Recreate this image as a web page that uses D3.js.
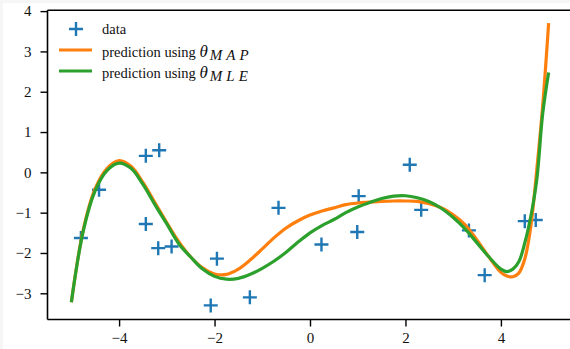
<!DOCTYPE html>
<html>
<head>
<meta charset="utf-8">
<script src="https://cdn.jsdelivr.net/npm/d3@7"></script>
<style>
  html, body { margin: 0; padding: 0; background: #f6f6f6; }
  svg { display: block; }
</style>
</head>
<body>
<svg id="canvas" width="570" height="349"></svg>
<script>
// observed samples
const dataX = [-4.80, -4.42, -3.44, -3.16, -3.44, -3.18, -2.90, -1.95, -2.08, -1.26,
               -0.66, 0.24, 0.99, 1.02, 2.09, 2.33, 3.33, 3.66, 4.50, 4.73];
const dataY = [-1.63, -0.43, 0.41, 0.55, -1.28, -1.88, -1.84, -2.14, -3.30, -3.10,
               -0.88, -1.79, -1.48, -0.59, 0.19, -0.93, -1.44, -2.55, -1.21, -1.18];

// curve readings (x grid shared by both predictions)
const gridX = [-5, -4.75, -4.5, -4.25, -4, -3.75, -3.5, -3.25, -3, -2.75, -2.5, -2.25,
               -2, -1.75, -1.5, -1.25, -1, -0.75, -0.5, -0.25, 0, 0.25, 0.5, 0.75,
               1, 1.25, 1.5, 1.75, 2, 2.25, 2.5, 2.75, 3, 3.25, 3.5, 3.75,
               4, 4.125, 4.25, 4.375, 4.5, 4.625, 4.75, 4.875, 5];
const mapY = [-3.22, -1.42, -0.40, 0.10, 0.29, 0.15, -0.25, -0.75, -1.25, -1.72, -2.10, -2.37,
              -2.52, -2.53, -2.40, -2.17, -1.90, -1.62, -1.38, -1.20, -1.06, -0.96, -0.88, -0.80,
              -0.76, -0.74, -0.72, -0.71, -0.71, -0.72, -0.78, -0.88, -1.05, -1.30, -1.68, -2.10,
              -2.48, -2.57, -2.59, -2.50, -2.15, -1.35, 0.05, 1.65, 3.70];
const mleY = [-3.22, -1.45, -0.45, 0.05, 0.23, 0.10, -0.30, -0.80, -1.28, -1.77, -2.10, -2.40,
              -2.58, -2.65, -2.63, -2.53, -2.38, -2.20, -1.98, -1.73, -1.50, -1.32, -1.17, -1.00,
              -0.86, -0.75, -0.65, -0.59, -0.58, -0.63, -0.73, -0.89, -1.12, -1.40, -1.75, -2.10,
              -2.40, -2.46, -2.40, -2.22, -1.75, -1.10, -0.20, 1.45, 2.48];

const xTicks = [-4, -2, 0, 2, 4];
const yTicks = [-3, -2, -1, 0, 1, 2, 3, 4];

const serif = '"Liberation Serif", "Times New Roman", serif';

const svg = d3.select('#canvas');
svg.append('rect').attr('x', 3).attr('y', 3).attr('width', 567).attr('height', 346).attr('fill', '#fff');

const pLeft = 47.5, pRight = 572.5, pTop = 10.3, pBottom = 319.5;
const x = d3.scaleLinear().domain([-5.5, 5.5]).range([pLeft, pRight]);
const y = d3.scaleLinear().domain([-3.65, 4.02]).range([pBottom, pTop]);

const fmt = (d) => d < 0 ? '\u2212' + Math.abs(d) : String(d);

const xAxis = svg.append('g')
	.attr('transform', `translate(0,${pBottom})`)
	.call(d3.axisBottom(x).tickValues(xTicks).tickFormat(fmt).tickSize(7).tickPadding(6).tickSizeOuter(0));
const yAxis = svg.append('g')
	.attr('transform', `translate(${pLeft},0)`)
	.call(d3.axisLeft(y).tickValues(yTicks).tickFormat(fmt).tickSize(7).tickPadding(9).tickSizeOuter(0));
[xAxis, yAxis].forEach((g) => {
	g.attr('font-family', null).attr('font-size', null);
	g.select('.domain').remove();
	g.selectAll('line').attr('stroke', '#000').attr('stroke-width', 1.4);
	g.selectAll('text').style('font-family', serif).style('font-size', '15px').attr('fill', '#111');
});

// spines
svg.append('line').attr('x1', pLeft).attr('x2', pLeft).attr('y1', pTop).attr('y2', pBottom)
	.attr('stroke', '#000').attr('stroke-width', 1.6);
svg.append('line').attr('x1', pLeft).attr('x2', pRight).attr('y1', pBottom).attr('y2', pBottom)
	.attr('stroke', '#000').attr('stroke-width', 1.6);
svg.append('line').attr('x1', pLeft).attr('x2', pRight).attr('y1', pTop).attr('y2', pTop)
	.attr('stroke', '#000').attr('stroke-width', 1.6);

const line = d3.line()
	.x((d) => x(d[0]))
	.y((d) => y(d[1]))
	.curve(d3.curveCatmullRom);

const mapPts = gridX.map((v, i) => [v, mapY[i]]);
const mlePts = gridX.map((v, i) => [v, mleY[i]]);

// data markers
const pts = dataX.map((v, i) => [v, dataY[i]]);
svg.selectAll('path.plus')
	.data(pts)
	.enter()
	.append('path')
	.attr('class', 'plus')
	.attr('d', (d) => `M${x(d[0]) - 7},${y(d[1])}h14M${x(d[0])},${y(d[1]) - 7}v14`)
	.attr('stroke', '#1f77b4')
	.attr('stroke-width', 2.4)
	.attr('fill', 'none');

svg.append('path').attr('d', line(mapPts)).attr('fill', 'none')
	.attr('stroke', '#ff7f0e').attr('stroke-width', 3.2).attr('stroke-linejoin', 'round');
svg.append('path').attr('d', line(mlePts)).attr('fill', 'none')
	.attr('stroke', '#2ca02c').attr('stroke-width', 3.2).attr('stroke-linejoin', 'round');

// legend
const lg = svg.append('g').style('font-family', serif).attr('fill', '#111');
lg.append('path').attr('d', 'M69,29h14M76,22v14').attr('stroke', '#1f77b4').attr('stroke-width', 2.4);
lg.append('line').attr('x1', 59).attr('x2', 92).attr('y1', 50).attr('y2', 50)
	.attr('stroke', '#ff7f0e').attr('stroke-width', 3.2);
lg.append('line').attr('x1', 59).attr('x2', 92).attr('y1', 71).attr('y2', 71)
	.attr('stroke', '#2ca02c').attr('stroke-width', 3.2);

lg.append('text').attr('x', 102).attr('y', 33.5).style('font-size', '14.5px').text('data');
const labels = [['MAP', 56.5], ['MLE', 77.5]];
labels.forEach(([sub, yy]) => {
	const t = lg.append('text').attr('x', 102).attr('y', yy).style('font-size', '14.5px');
	t.append('tspan').text('prediction using ');
	t.append('tspan').attr('font-style', 'italic').style('font-size', '17px').text('\u03b8');
	t.append('tspan').attr('font-style', 'italic')
		.attr('font-size', 15).style('font-size', '15px')
		.attr('dx', 2).attr('dy', 3).attr('letter-spacing', 4).text(sub);
});
</script>
</body>
</html>
